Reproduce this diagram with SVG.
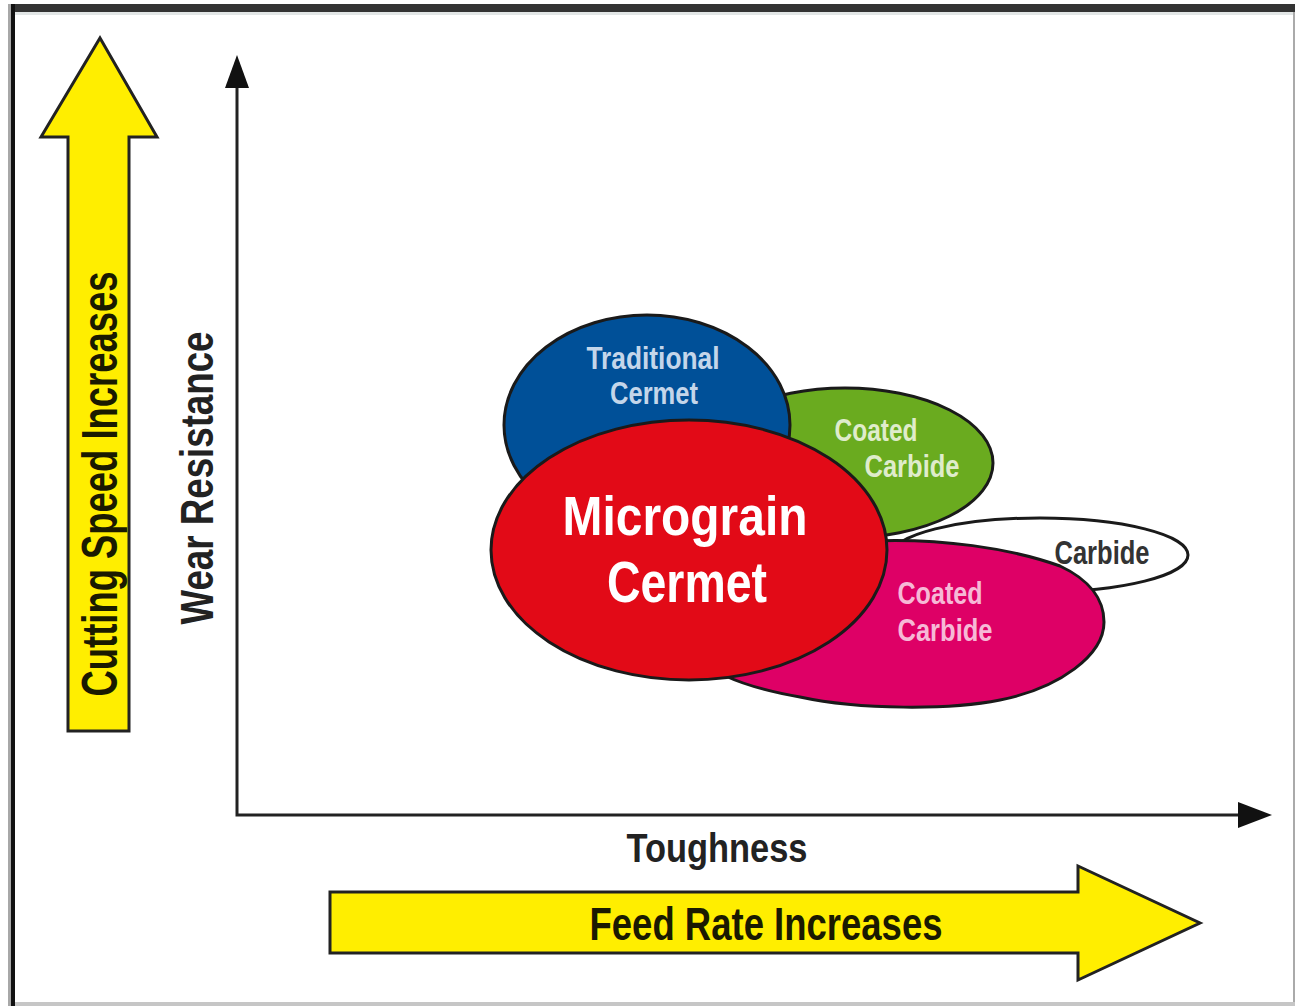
<svg xmlns="http://www.w3.org/2000/svg" width="1295" height="1006" viewBox="0 0 1295 1006">
<style>
  .lbl { font-family: "Liberation Sans", Arial, sans-serif; font-weight: bold; text-anchor: middle; }
  .blob { stroke: #1a1a1a; stroke-width: 3; }
  .yarrow { fill: #ffee00; stroke: #222; stroke-width: 3; stroke-linejoin: miter; }
  .axis { stroke: #222; stroke-width: 3; fill: none; }
</style>
<rect x="0" y="0" width="1295" height="1006" fill="#ffffff"/>
<g id="frame">
  <rect x="9" y="4" width="1286" height="8" fill="#333333"/>
  <rect x="13" y="12" width="1282" height="3" fill="#e2e6e6"/>
  <rect x="8" y="4" width="3" height="1002" fill="#a8a8a8"/>
  <rect x="11" y="4" width="4" height="1002" fill="#111111"/>
  <rect x="15" y="1002" width="1280" height="4" fill="#c6c6c6"/>
  <rect x="1293" y="12" width="2" height="990" fill="#aaaaaa"/>
</g>
<g id="cutting-speed-arrow">
  <polygon class="yarrow" points="100,38 157,137 129,137 129,731 68,731 68,137 41,137"/>
  <text class="lbl" transform="translate(117,484) rotate(-90)" font-size="50" fill="#1a1a00" textLength="425" lengthAdjust="spacingAndGlyphs">Cutting Speed Increases</text>
</g>
<g id="feed-rate-arrow">
  <polygon class="yarrow" points="330,892 1078,892 1078,866 1200,923 1078,980 1078,953 330,953"/>
  <text class="lbl" x="766" y="940" font-size="46" fill="#1a1a00" textLength="353" lengthAdjust="spacingAndGlyphs">Feed Rate Increases</text>
</g>
<g id="connectors">
  <polyline class="axis" points="237,86 237,815 1242,815"/>
  <polygon points="237,55 225,88 249,88" fill="#111"/>
  <polygon points="1272,815 1238,802 1238,828" fill="#111"/>
</g>
<g id="wear-resistance-label">
  <text class="lbl" transform="translate(213,478) rotate(-90)" font-size="46" fill="#222" textLength="293" lengthAdjust="spacingAndGlyphs">Wear Resistance</text>
</g>
<g id="toughness-label">
  <text class="lbl" x="717" y="862" font-size="40" fill="#222" textLength="181" lengthAdjust="spacingAndGlyphs">Toughness</text>
</g>
<g id="carbide">
  <ellipse class="blob" cx="1040" cy="555" rx="148" ry="37" fill="#ffffff"/>
  <text class="lbl" x="1102" y="564" font-size="33" fill="#333333" textLength="95" lengthAdjust="spacingAndGlyphs">Carbide</text>
</g>
<g id="coated-carbide-green">
  <ellipse class="blob" cx="845" cy="463" rx="148" ry="75" fill="#6aab1f"/>
  <text class="lbl" x="876" y="441" font-size="32" fill="#dfeccb" textLength="83" lengthAdjust="spacingAndGlyphs">Coated</text>
  <text class="lbl" x="912" y="477" font-size="32" fill="#dfeccb" textLength="95" lengthAdjust="spacingAndGlyphs">Carbide</text>
</g>
<g id="traditional-cermet">
  <ellipse class="blob" cx="647" cy="425" rx="143" ry="110" fill="#005098"/>
  <text class="lbl" x="653" y="369" font-size="32" fill="#c4d6ea" textLength="133" lengthAdjust="spacingAndGlyphs">Traditional</text>
  <text class="lbl" x="654" y="404" font-size="32" fill="#c4d6ea" textLength="88" lengthAdjust="spacingAndGlyphs">Cermet</text>
</g>
<g id="coated-carbide-magenta">
  <path class="blob" fill="#de0066" d="M 870,541 C 940,538 1010,548 1060,566 C 1090,580 1104,600 1104,622 C 1104,655 1060,688 1000,700 C 950,710 860,710 800,697 C 760,690 720,678 700,660 L 760,560 Z"/>
  <text class="lbl" x="940" y="604" font-size="32" fill="#f6b9d6" textLength="85" lengthAdjust="spacingAndGlyphs">Coated</text>
  <text class="lbl" x="945" y="641" font-size="32" fill="#f6b9d6" textLength="95" lengthAdjust="spacingAndGlyphs">Carbide</text>
</g>
<g id="micrograin-cermet">
  <ellipse class="blob" cx="689" cy="550" rx="198" ry="130" fill="#e20a17"/>
  <text class="lbl" x="685" y="535" font-size="56" fill="#ffffff" textLength="245" lengthAdjust="spacingAndGlyphs">Micrograin</text>
  <text class="lbl" x="687" y="602" font-size="58" fill="#ffffff" textLength="160" lengthAdjust="spacingAndGlyphs">Cermet</text>
</g>
</svg>
